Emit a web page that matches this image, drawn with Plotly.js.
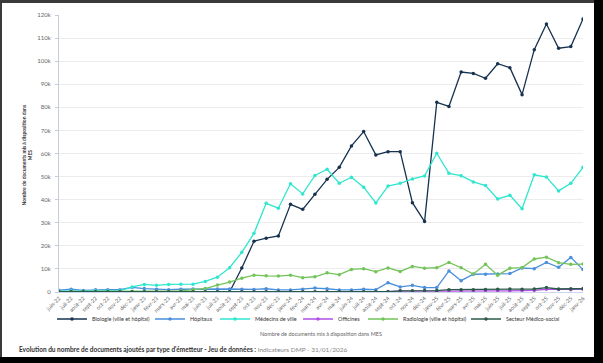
<!DOCTYPE html>
<html>
<head>
<meta charset="utf-8">
<script src="https://cdn.plot.ly/plotly-3.0.1.min.js"></script>
<style>
  html, body { margin: 0; padding: 0; background: #000; width: 603px; height: 363px; overflow: hidden; }
  #frame { position: absolute; left: 0; top: 0; width: 594px; height: 357px; background: #3a3a3a; }
  #chart { position: absolute; left: 2px; top: 3px; width: 592px; height: 354px; background: #fff; }
</style>
</head>
<body>
<div id="frame"></div>
<div id="chart"></div>
<script>
const months = ["juin-22","juil-22","août-22","sept-22","oct-22","nov-22","déc-22",
  "janv-23","févr-23","mars-23","avr-23","mai-23","juin-23","juil-23","août-23","sept-23","oct-23","nov-23","déc-23",
  "janv-24","févr-24","mars-24","avr-24","mai-24","juin-24","juil-24","août-24","sept-24","oct-24","nov-24","déc-24",
  "janv-25","févr-25","mars-25","avr-25","mai-25","juin-25","juil-25","août-25","sept-25","oct-25","nov-25","déc-25",
  "janv-26"];

const biologie = [0,0,0,0,0,0,0,0,0,0,0,0,0,0,0,10400,22000,23300,24300,38000,35800,42300,48800,54000,63300,69500,59400,60800,60800,38700,30500,82200,80400,95300,94700,92600,98900,97200,85500,105000,116100,105600,106300,118300];
const hopitaux = [800,1200,700,1000,1000,1000,2000,1500,1200,1000,1200,1300,1400,1300,1300,1200,1100,1400,900,900,1200,1700,1400,900,900,1200,1000,4000,2200,2900,1900,1900,9100,4900,7700,7700,7800,8000,10400,10100,12800,10700,15000,9700];
const medecins = [400,500,300,500,500,500,2200,3300,2900,3300,3400,3400,4600,6400,10500,17200,25400,38400,36300,46900,42500,50500,53200,47100,49700,45400,38600,45900,47100,49000,50300,60100,51400,50400,47700,46100,40300,41900,36100,50800,49800,43800,47100,54000];
const officines = [0,0,0,0,0,0,0,0,0,0,0,0,0,0,0,0,0,0,0,0,0,0,0,0,0,0,0,200,400,300,300,400,400,500,500,500,500,500,600,700,1200,1100,1000,1200];
const radiologie = [200,200,200,200,200,200,200,200,200,200,500,1000,1500,3000,4300,6000,7300,7000,6900,7300,6200,6600,8300,7500,9800,10100,8800,10400,8900,11100,10300,10500,12800,10500,7800,12000,7300,10300,10600,14300,15100,12700,12000,12100];
const medicoSocial = [100,100,100,100,100,100,100,100,100,100,100,100,100,100,100,100,100,100,100,100,100,100,100,100,100,100,100,100,500,500,600,600,1000,1000,1000,1100,1200,1300,1200,1300,1900,1300,1400,1500];

const seriesNames = ["Biologie (ville et hôpital)","Hôpitaux","Médecins de ville","Officines","Radiologie (ville et hôpital)","Secteur Médico-social"];
const seriesData = [biologie, hopitaux, medecins, officines, radiologie, medicoSocial];
const seriesColors = ["#17324f","#4a8fdc","#2fe6cf","#b34fe6","#72c45a","#2b5a49"];

const yTickVals = [0,10000,20000,30000,40000,50000,60000,70000,80000,90000,100000,110000,120000];
const yTickText = ["0","10k","20k","30k","40k","50k","60k","70k","80k","90k","100k","110k","120k"];

const legendIds = ["legend","legend2","legend3","legend4","legend5","legend6"];
// left edge (page px) of each legend entry
const legendLeft = [52, 150, 215, 298, 363, 466];

const traces = seriesData.map((d, k) => ({
  type: "scatter",
  mode: "lines+markers",
  name: seriesNames[k],
  legend: legendIds[k],
  x: months.map((m, i) => i),
  y: d,
  line: { color: seriesColors[k], width: 1.3 },
  marker: { color: seriesColors[k], size: 3.5 }
}));

const font = "Lato, 'Noto Sans', sans-serif";
const W = 592, H = 354;

const layout = {
  width: W, height: H,
  margin: { l: 57, r: 11, t: 12, b: 65 },
  paper_bgcolor: "#fff", plot_bgcolor: "#fff",
  showlegend: true,
  font: { family: font, size: 6, color: "#666" },
  xaxis: {
    range: [0, 43],
    tickmode: "array",
    tickvals: months.map((m, i) => i),
    ticktext: months,
    tickangle: -45,
    tickfont: { size: 5.5, color: "#666", family: font },
    showgrid: false,
    zeroline: false,
    showline: true, linecolor: "#ccd6eb", linewidth: 1,
    ticks: "", fixedrange: true
  },
  yaxis: {
    range: [0, 120000],
    tickmode: "array",
    tickvals: yTickVals,
    ticktext: yTickText,
    tickfont: { size: 6, color: "#666", family: font },
    showgrid: true, gridcolor: "#ececec", gridwidth: 1,
    zeroline: false,
    showline: true, linecolor: "#c5ccd8", linewidth: 1,
    ticks: "outside", ticklen: 3, tickcolor: "#c5ccd8",
    ticklabelstandoff: 3
  },
  annotations: [
    {
      text: "Nombre de documents mis à disposition dans MES",
      xref: "paper", yref: "paper", x: 0.5, y: -0.152,
      xanchor: "center", yanchor: "middle", showarrow: false,
      font: { size: 5.5, color: "#666", family: font }
    },
    {
      text: "<b>Nombre de documents mis à disposition dans<br>MES</b>",
      xref: "paper", yref: "paper", x: -0.06, y: 0.495,
      xanchor: "center", yanchor: "middle", showarrow: false, textangle: -90,
      font: { size: 5, color: "#333", family: font }
    },
    {
      text: "<b>Evolution du nombre de documents ajoutés par type d'émetteur - Jeu de données :</b> <span style='color:#888'>Indicateurs DMP - 31/01/2026</span>",
      xref: "paper", yref: "paper", x: -0.08, y: -0.209,
      xanchor: "left", yanchor: "middle", showarrow: false,
      font: { size: 6.5, color: "#333", family: font }
    }
  ]
};

legendIds.forEach((id, k) => {
  layout[id] = {
    orientation: "h",
    xref: "container", yref: "container",
    x: (legendLeft[k] - 2) / W, xanchor: "left",
    y: 1 - (319 - 3) / H, yanchor: "middle",
    bgcolor: "rgba(0,0,0,0)",
    borderwidth: 0,
    font: { size: 5.5, color: "#333", family: font },
    itemwidth: 30
  };
});

Plotly.newPlot("chart", traces, layout, { displayModeBar: false, staticPlot: true });
</script>
</body>
</html>
